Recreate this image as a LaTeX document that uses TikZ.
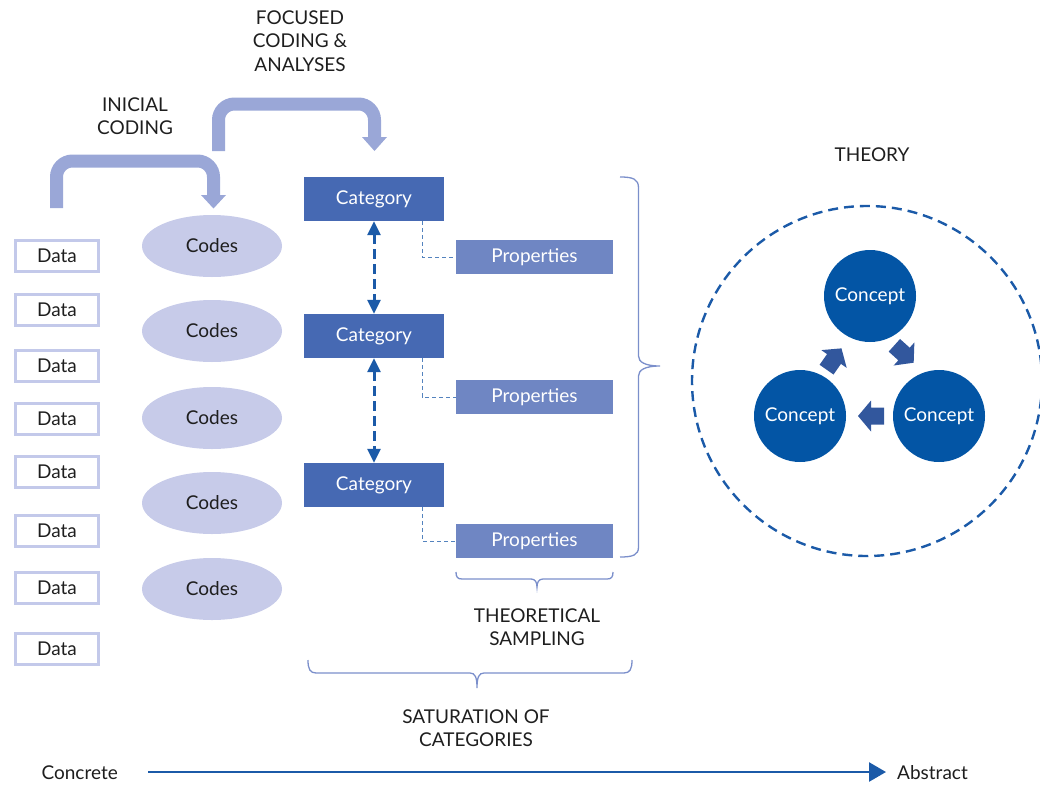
\documentclass[tikz,border=0pt]{standalone}
\usepackage{fontspec}
\setmainfont{Lato}
\usetikzlibrary{arrows.meta,decorations.pathreplacing,shapes.geometric}
\definecolor{databd}{HTML}{C3C9EA}
\definecolor{codesfill}{HTML}{C7CBE9}
\definecolor{band}{HTML}{9AA7D7}
\definecolor{catfill}{HTML}{4669B3}
\definecolor{propfill}{HTML}{6F86C3}
\definecolor{conceptfill}{HTML}{0355A5}
\definecolor{blockarr}{HTML}{32579D}
\definecolor{dasharr}{HTML}{1B5AA8}
\definecolor{bracecol}{HTML}{7B8FCB}
\definecolor{txt}{HTML}{1E1E1E}
\tikzset{
  base/.style={font=\fontsize{19}{23.5}\selectfont, inner sep=0pt},
  databox/.style={base, draw=databd, line width=2.6pt, minimum width=83pt, minimum height=31pt, text=txt},
  codesell/.style={base, ellipse, fill=codesfill, minimum width=140pt, minimum height=62pt, text=txt},
  catbox/.style={base, fill=catfill, minimum width=140pt, minimum height=44pt, text=white},
  propbox/.style={base, fill=propfill, minimum width=157pt, minimum height=34pt, text=white},
  conceptnode/.style={base, circle, fill=conceptfill, minimum size=92pt, text=white},
  label/.style={base, align=center, text=txt},
  bandline/.style={draw=band, line width=13pt, rounded corners=16pt},
  bandhead/.style={fill=band},
  dblarrow/.style={draw=dasharr, line width=3pt, dash pattern=on 10pt off 5pt, {Triangle[width=13pt,length=14pt]}-{Triangle[width=13pt,length=14pt]}},
  propline/.style={draw=dasharr!75, line width=1pt, dash pattern=on 4pt off 3pt},
  bracestyle/.style={draw=bracecol, line width=1.3pt},
  blockarrow/.style={fill=blockarr},
  axis/.style={draw=dasharr, line width=2.6pt, -{Triangle[width=19pt,length=17pt]}}
}
\begin{document}
\begin{tikzpicture}[x=1pt,y=-1pt]
\useasboundingbox (0,0) rectangle (1040,784);
% Data
\foreach \i/\y in {1/256,2/310,3/366,4/419,5/472,6/531,7/588,8/649}{
  \node[databox] (d\i) at (57,\y) {Data};
}
% Codes
\foreach \i/\y in {1/246,2/331,3/418,4/503,5/589}{
  \node[codesell] (c\i) at (212,\y) {Codes};
}
% Categories
\node[catbox] (cat1) at (374,199) {Category};
\node[catbox] (cat2) at (374,336) {Category};
\node[catbox] (cat3) at (374,485) {Category};
% Properties
\node[propbox] (p1) at (534.5,257) {Properties};
\node[propbox] (p2) at (534.5,397) {Properties};
\node[propbox] (p3) at (534.5,541) {Properties};
% dashed connectors
\draw[propline] ([xshift=48pt]cat1.south) |- (p1.west);
\draw[propline] ([xshift=48pt]cat2.south) |- (p2.west);
\draw[propline] ([xshift=48pt]cat3.south) |- (p3.west);
% double arrows
\draw[dblarrow] (cat1.south) -- (cat2.north);
\draw[dblarrow] (cat2.south) -- (cat3.north);
% band arrows
\coordinate (ia) at (56.5,208);
\coordinate (ib) at (213.5,195);
\draw[bandline] (ia) -- (56.5,161) -- (213.5,161) -- (ib);
\fill[bandhead] (201,195) -- (226,195) -- (213.5,208.5) -- cycle;
\coordinate (fa) at (218.5,151);
\coordinate (fb) at (374.5,137);
\draw[bandline] (fa) -- (218.5,104) -- (374.5,104) -- (fb);
\fill[bandhead] (362,137) -- (387,137) -- (374.5,151) -- cycle;
% labels
\node[label] (lic) at (135,116) {INICIAL\\CODING};
\node[label] (lfc) at (300,41) {FOCUSED\\CODING \&\\ANALYSES};
\node[label] (lts) at (537,627) {THEORETICAL\\SAMPLING};
\node[label] (lsc) at (476,728) {SATURATION OF\\CATEGORIES};
\node[label] (lth) at (872,155) {THEORY};
% braces
\draw[bracestyle] (620,177) .. controls (633,177) and (638.5,179) .. (638.5,188)
  -- (638.5,356) .. controls (638.5,362) and (645,366) .. (660,366)
  .. controls (645,366) and (638.5,370) .. (638.5,376)
  -- (638.5,547) .. controls (638.5,555) and (633,557) .. (620,557);
\draw[bracestyle] (456,572) .. controls (456,577) and (457.5,579) .. (462,579)
  -- (531,579) .. controls (535,579) and (537,582) .. (537,587)
  .. controls (537,582) and (539,579) .. (543,579)
  -- (607,579) .. controls (611.5,579) and (613,577) .. (613,572);
\draw[bracestyle] (308,660) .. controls (308,669) and (310,673) .. (316,673)
  -- (470,673) .. controls (475,673) and (477,677) .. (477,688)
  .. controls (477,677) and (479,673) .. (484,673)
  -- (624,673) .. controls (630,673) and (632,669) .. (632,660);
% theory
\node[draw=dasharr, line width=2.4pt, dash pattern=on 10pt off 6pt, circle, minimum size=350pt, inner sep=0pt] (theory) at (867,381) {};
\node[conceptnode] (k1) at (870,296) {Concept};
\node[conceptnode] (k2) at (800,416) {Concept};
\node[conceptnode] (k3) at (939,416) {Concept};
\fill[blockarrow, shift={(834,359)}, rotate=55] (-13,-8.5) -- (0,-8.5) -- (0,-15.5) -- (13,0) -- (0,15.5) -- (0,8.5) -- (-13,8.5) -- cycle;
\fill[blockarrow, shift={(904,354)}, rotate=-42] (-13,-8.5) -- (0,-8.5) -- (0,-15.5) -- (13,0) -- (0,15.5) -- (0,8.5) -- (-13,8.5) -- cycle;
\fill[blockarrow, shift={(871,416)}, rotate=180] (-13,-8.5) -- (0,-8.5) -- (0,-15.5) -- (13,0) -- (0,15.5) -- (0,8.5) -- (-13,8.5) -- cycle;
% axis
\node[label, anchor=east] (conc) at (118,773) {Concrete};
\node[label, anchor=west] (abst) at (897,773) {Abstract};
\draw[axis] (148,772) -- (886,772);
\end{tikzpicture}
\end{document}
